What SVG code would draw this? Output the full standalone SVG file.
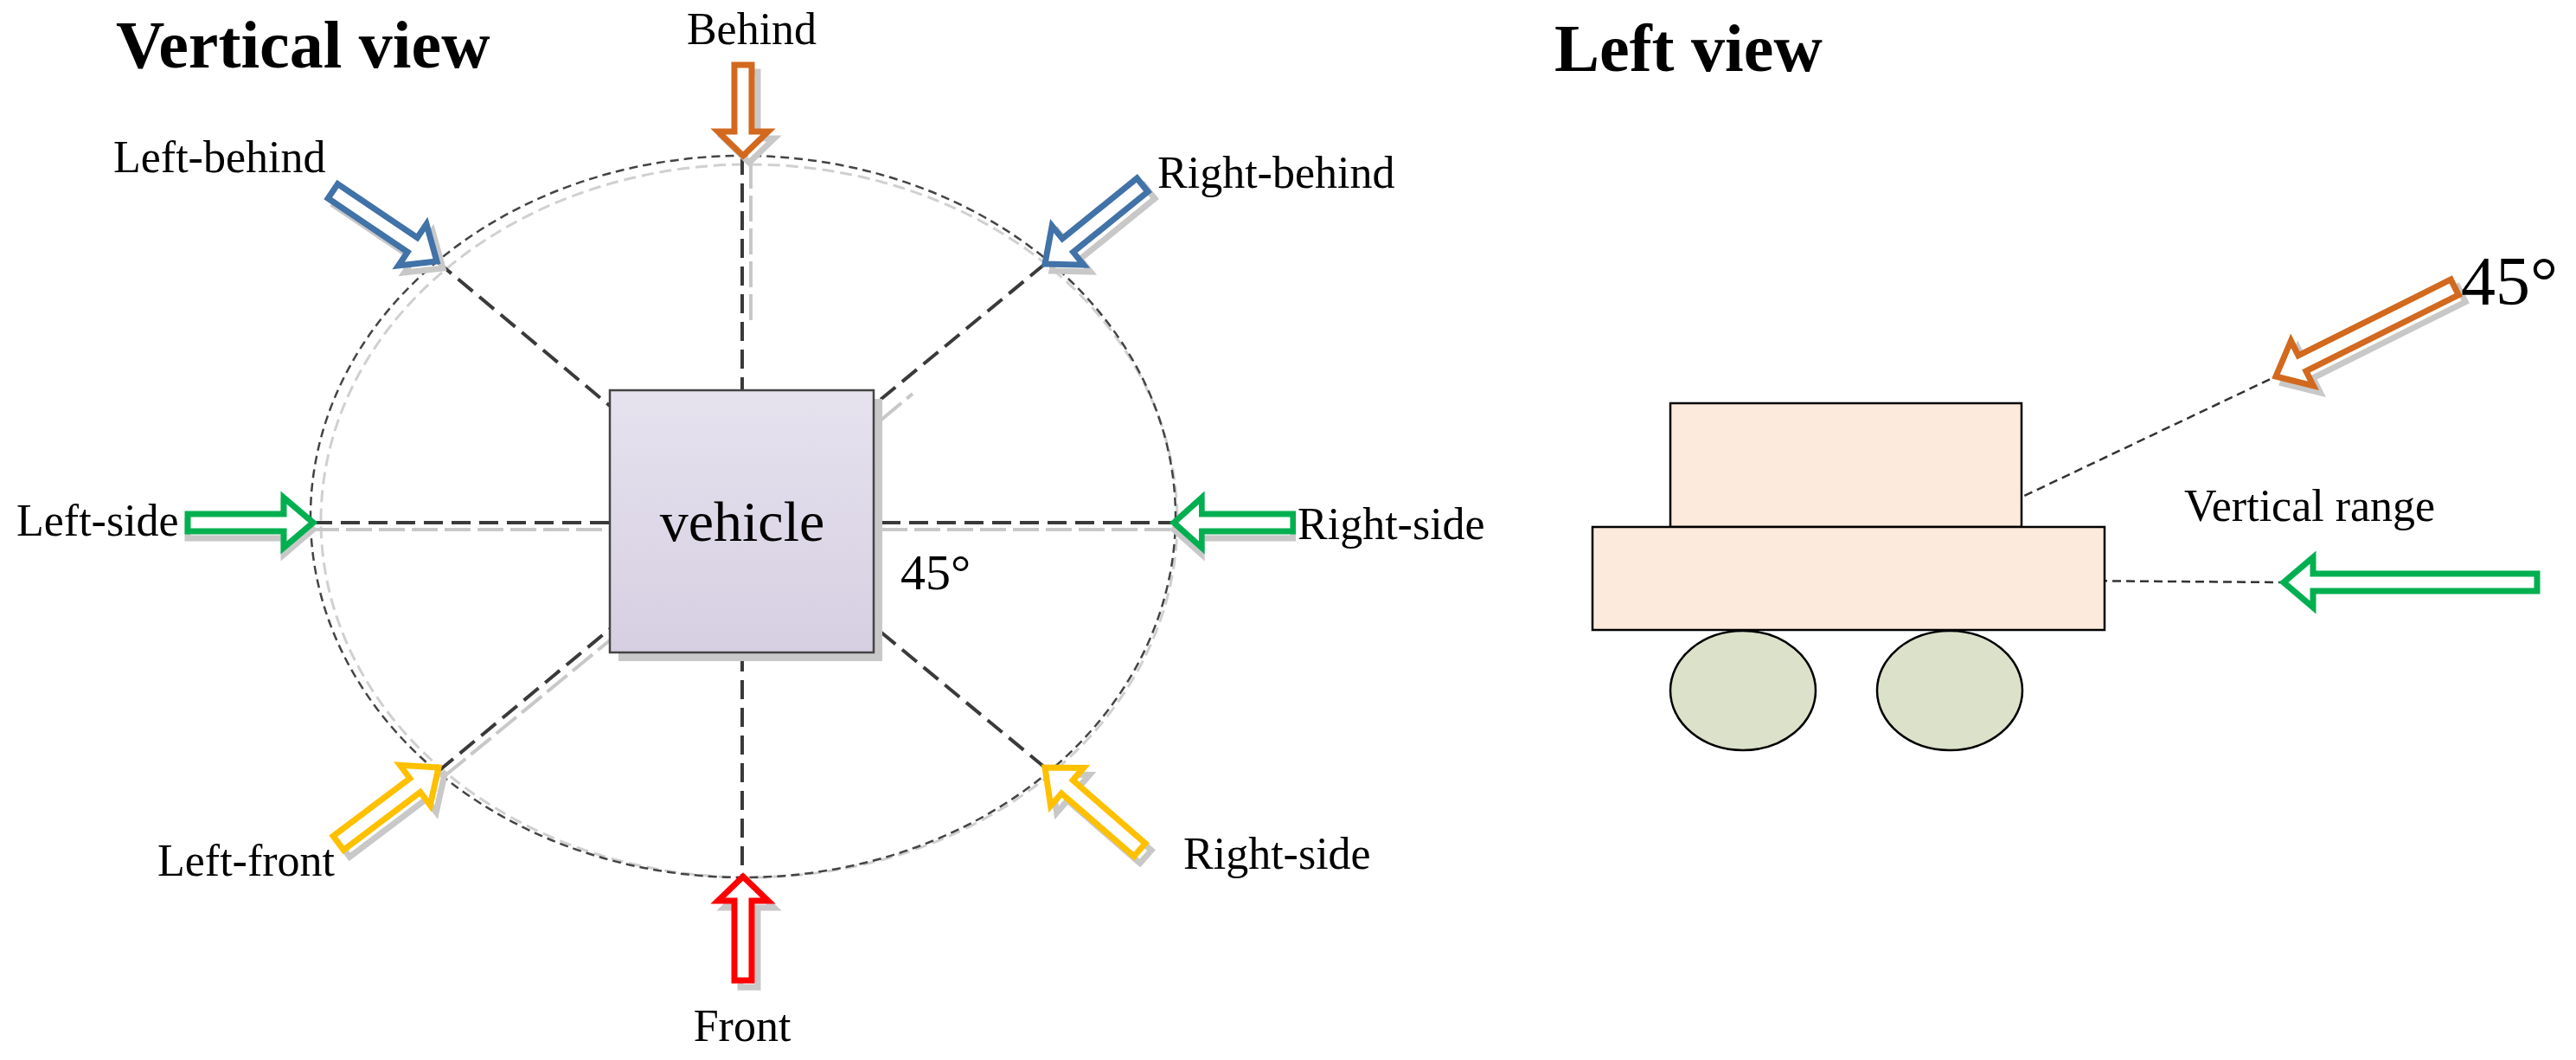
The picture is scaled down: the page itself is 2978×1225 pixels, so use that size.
<svg xmlns="http://www.w3.org/2000/svg" width="2978" height="1225" viewBox="0 0 2978 1225">
<style>
text{font-family:"Liberation Serif","Times New Roman",serif;fill:#000}
.title{font-size:78px;font-weight:bold}
.lbl{font-size:52px}
.arr{fill:#fff;stroke-width:7;stroke-linejoin:miter}
.sh{fill:none;stroke:#c8c8c8;stroke-width:7}
.dash{stroke:#3a3a3a;stroke-width:4;stroke-dasharray:22 10;fill:none}
.dashg{stroke:#c8c8c8;stroke-width:4;stroke-dasharray:30 8;fill:none}
.thin{stroke:#333;stroke-width:2.5;stroke-dasharray:10 6;fill:none}
</style>
<defs>
<linearGradient id="vg" x1="0" y1="0" x2="0" y2="1"><stop offset="0" stop-color="#e6e2ee"/><stop offset="1" stop-color="#d6cfe2"/></linearGradient>
<path id="a145" d="M0,0 L-34,-29 L-34,-10 L-145,-10 L-145,10 L-34,10 L-34,29 Z"/>
<path id="a231" d="M0,0 L-34,-29 L-34,-10 L-231,-10 L-231,10 L-34,10 L-34,29 Z"/>
<path id="a293" d="M0,0 L-34,-29 L-34,-10 L-293,-10 L-293,10 L-34,10 L-34,29 Z"/>
<path id="av105" d="M0,0 L-28,-29 L-28,-10 L-105,-10 L-105,10 L-28,10 L-28,29 Z"/>
<path id="av120" d="M0,0 L-28,-29 L-28,-10 L-120,-10 L-120,10 L-28,10 L-28,29 Z"/>
</defs>

<g id="title-vertical"><text class="title" x="134" y="78">Vertical view</text></g>
<g id="title-left"><text class="title" x="1797" y="82">Left view</text></g>

<g id="connectors">
<ellipse cx="866" cy="602" rx="495" ry="412" fill="none" stroke="#d0d0d0" stroke-width="3" stroke-dasharray="14 7"/>
<ellipse cx="859" cy="597" rx="500" ry="417" fill="none" stroke="#444" stroke-width="2.5" stroke-dasharray="10 6"/>
<line class="dashg" x1="868" y1="188" x2="868" y2="378"/>
<line class="dashg" x1="362" y1="612" x2="705" y2="612"/>
<line class="dashg" x1="1019" y1="612" x2="1357" y2="612"/>
<line class="dashg" x1="515" y1="896" x2="705" y2="740"/>
<line class="dashg" x1="1019" y1="485" x2="1055" y2="455"/>
<line class="dash" x1="858" y1="180" x2="858" y2="451"/>
<line class="dash" x1="858" y1="754" x2="858" y2="1013"/>
<line class="dash" x1="362" y1="604" x2="705" y2="604"/>
<line class="dash" x1="1019" y1="604" x2="1357" y2="604"/>
<line class="dash" x1="505" y1="302" x2="705" y2="469"/>
<line class="dash" x1="1208" y1="305" x2="1014" y2="465"/>
<line class="dash" x1="507" y1="891" x2="705" y2="727"/>
<line class="dash" x1="1208" y1="887" x2="1019" y2="731"/>
<line class="thin" x1="2138" y1="669" x2="2631" y2="435"/>
<line class="thin" x1="2138" y1="669" x2="2640" y2="673"/>
</g>

<g id="vehicle">
<rect x="715" y="461" width="305" height="303" fill="#c8c8c8"/>
<rect x="705" y="451" width="305" height="303" fill="url(#vg)" stroke="#444" stroke-width="2.5"/>
<text x="858" y="625" font-size="66" text-anchor="middle">vehicle</text>
</g>
<g id="angle-label"><text x="1041" y="681" font-size="58">45°</text></g>

<g id="behind">
<use href="#av105" class="sh" transform="translate(866,188) rotate(90)"/>
<use href="#av105" class="arr" stroke="#D2691E" transform="translate(859,180) rotate(90)"/>
<text class="lbl" x="869" y="51" text-anchor="middle">Behind</text>
</g>
<g id="front">
<use href="#av120" class="sh" transform="translate(866,1021) rotate(-90)"/>
<use href="#av120" class="arr" stroke="#FF0000" transform="translate(859,1013) rotate(-90)"/>
<text class="lbl" x="858" y="1203" text-anchor="middle">Front</text>
</g>
<g id="left-side">
<use href="#a145" class="sh" transform="translate(362,612)"/>
<use href="#a145" class="arr" stroke="#00B050" transform="translate(362,604)"/>
<text class="lbl" x="19" y="619">Left-side</text>
</g>
<g id="right-side">
<use href="#a145" class="sh" transform="translate(1357,612) rotate(180) scale(0.95,1)"/>
<use href="#a145" class="arr" stroke="#00B050" transform="translate(1357,604) rotate(180) scale(0.95,1)"/>
<text class="lbl" x="1500" y="623">Right-side</text>
</g>
<g id="left-behind">
<use href="#a145" class="sh" transform="translate(512,310) rotate(34)"/>
<use href="#a145" class="arr" stroke="#4172A8" transform="translate(505,302) rotate(34)"/>
<text class="lbl" x="131" y="199">Left-behind</text>
</g>
<g id="right-behind">
<use href="#a145" class="sh" transform="translate(1216,313) rotate(141)"/>
<use href="#a145" class="arr" stroke="#4172A8" transform="translate(1208,305) rotate(141)"/>
<text class="lbl" x="1338" y="217">Right-behind</text>
</g>
<g id="left-front">
<use href="#a145" class="sh" transform="translate(514,895) rotate(-37)"/>
<use href="#a145" class="arr" stroke="#FFC000" transform="translate(507,887) rotate(-37)"/>
<text class="lbl" x="182" y="1012">Left-front</text>
</g>
<g id="right-front">
<use href="#a145" class="sh" transform="translate(1215,895) rotate(-139)"/>
<use href="#a145" class="arr" stroke="#FFC000" transform="translate(1208,887) rotate(-139)"/>
<text class="lbl" x="1368" y="1004">Right-side</text>
</g>

<g id="car">
<rect x="1931" y="466" width="406" height="143" fill="#FCEBDD" stroke="#000" stroke-width="2.5"/>
<rect x="1841" y="609" width="592" height="119" fill="#FCEBDD" stroke="#000" stroke-width="2.5"/>
<ellipse cx="2015" cy="798" rx="84" ry="69" fill="#DCE1CA" stroke="#000" stroke-width="2.5"/>
<ellipse cx="2254" cy="798" rx="84" ry="69" fill="#DCE1CA" stroke="#000" stroke-width="2.5"/>
</g>
<g id="arrow-45">
<use href="#a231" class="sh" transform="translate(2639,443) rotate(153.5)"/>
<use href="#a231" class="arr" stroke="#D2691E" transform="translate(2631,435) rotate(153.5)"/>
<text x="2845" y="352" font-size="80">45°</text>
</g>
<g id="arrow-horizontal">
<use href="#a293" class="arr" stroke="#00B050" transform="translate(2640,673) rotate(180)"/>
<text class="lbl" x="2525" y="602">Vertical range</text>
</g>
</svg>
